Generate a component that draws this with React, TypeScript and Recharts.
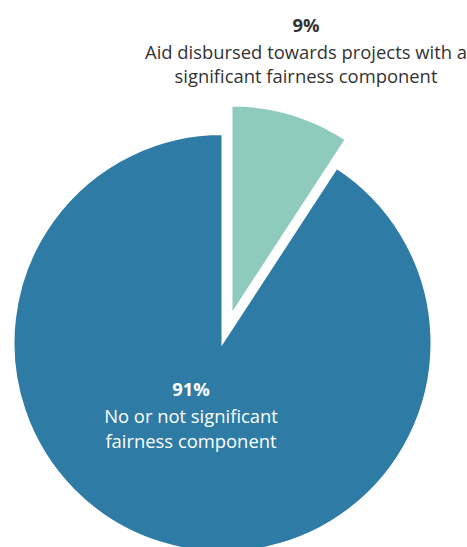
import React from 'react';
import { PieChart, Pie, Cell } from 'recharts';

const categories = [
  'Aid disbursed towards projects with a significant fairness component',
  'No or not significant fairness component',
];
const values = [9.2, 90.8];
const labelLines = [
  ['Aid disbursed towards projects with a', 'significant fairness component'],
  ['No or not significant', 'fairness component'],
];
const colors = ['#8FCBBD', '#2E7BA6'];

const data = categories.map((name, i) => ({ name, value: values[i] }));

const FONT = '"Open Sans", "Noto Sans", sans-serif';
const FS = 18.4;

const makeLabel = (shown: number) => (props: any) => {
  const { index, cx, cy, value } = props;
  if (index !== shown) return null;
  const pct = `${Math.round(value)}%`;
  if (index === 0) {
    const x = cx + 74.5;
    return (
      <g>
        <text x={x} y={cy - 283} textAnchor="middle" fill="#333" fontFamily={FONT} fontSize={FS} fontWeight={700}>
          {pct}
        </text>
        {labelLines[0].map((l, i) => (
          <text key={i} x={x} y={cy - 256 + i * 24.5} textAnchor="middle" fill="#333" fontFamily={FONT} fontSize={FS}>
            {l}
          </text>
        ))}
      </g>
    );
  }
  const x = cx - 31.5;
  return (
    <g>
      <text x={x} y={cy + 53} textAnchor="middle" fill="#fff" fontFamily={FONT} fontSize={FS} fontWeight={700}>
        {pct}
      </text>
      {labelLines[1].map((l, i) => (
        <text key={i} x={x} y={cy + 80 + i * 25} textAnchor="middle" fill="#fff" fontFamily={FONT} fontSize={FS}>
          {l}
        </text>
      ))}
    </g>
  );
};

export default function App() {
  return (
    <div style={{ position: 'absolute', left: 0, top: 0, width: 467, height: 547, background: '#fff' }}>
      <PieChart width={467} height={547} margin={{ top: 0, right: 0, bottom: 0, left: 0 }}>
        <Pie
          data={data}
          dataKey="value"
          nameKey="name"
          cx={222.5}
          cy={343}
          outerRadius={209}
          startAngle={90}
          endAngle={-270}
          stroke="#fff"
          strokeWidth={2}
          isAnimationActive={false}
          labelLine={false}
          label={makeLabel(1)}
        >
          {data.map((d, i) => (
            <Cell key={i} fill={i === 1 ? colors[1] : 'none'} stroke={i === 1 ? '#fff' : 'none'} />
          ))}
        </Pie>
        <Pie
          data={data}
          dataKey="value"
          nameKey="name"
          cx={231.5}
          cy={314.5}
          outerRadius={209}
          startAngle={90}
          endAngle={-270}
          stroke="#fff"
          strokeWidth={2}
          isAnimationActive={false}
          labelLine={false}
          label={makeLabel(0)}
        >
          {data.map((d, i) => (
            <Cell key={i} fill={i === 0 ? colors[0] : 'none'} stroke={i === 0 ? '#fff' : 'none'} />
          ))}
        </Pie>
      </PieChart>
    </div>
  );
}
